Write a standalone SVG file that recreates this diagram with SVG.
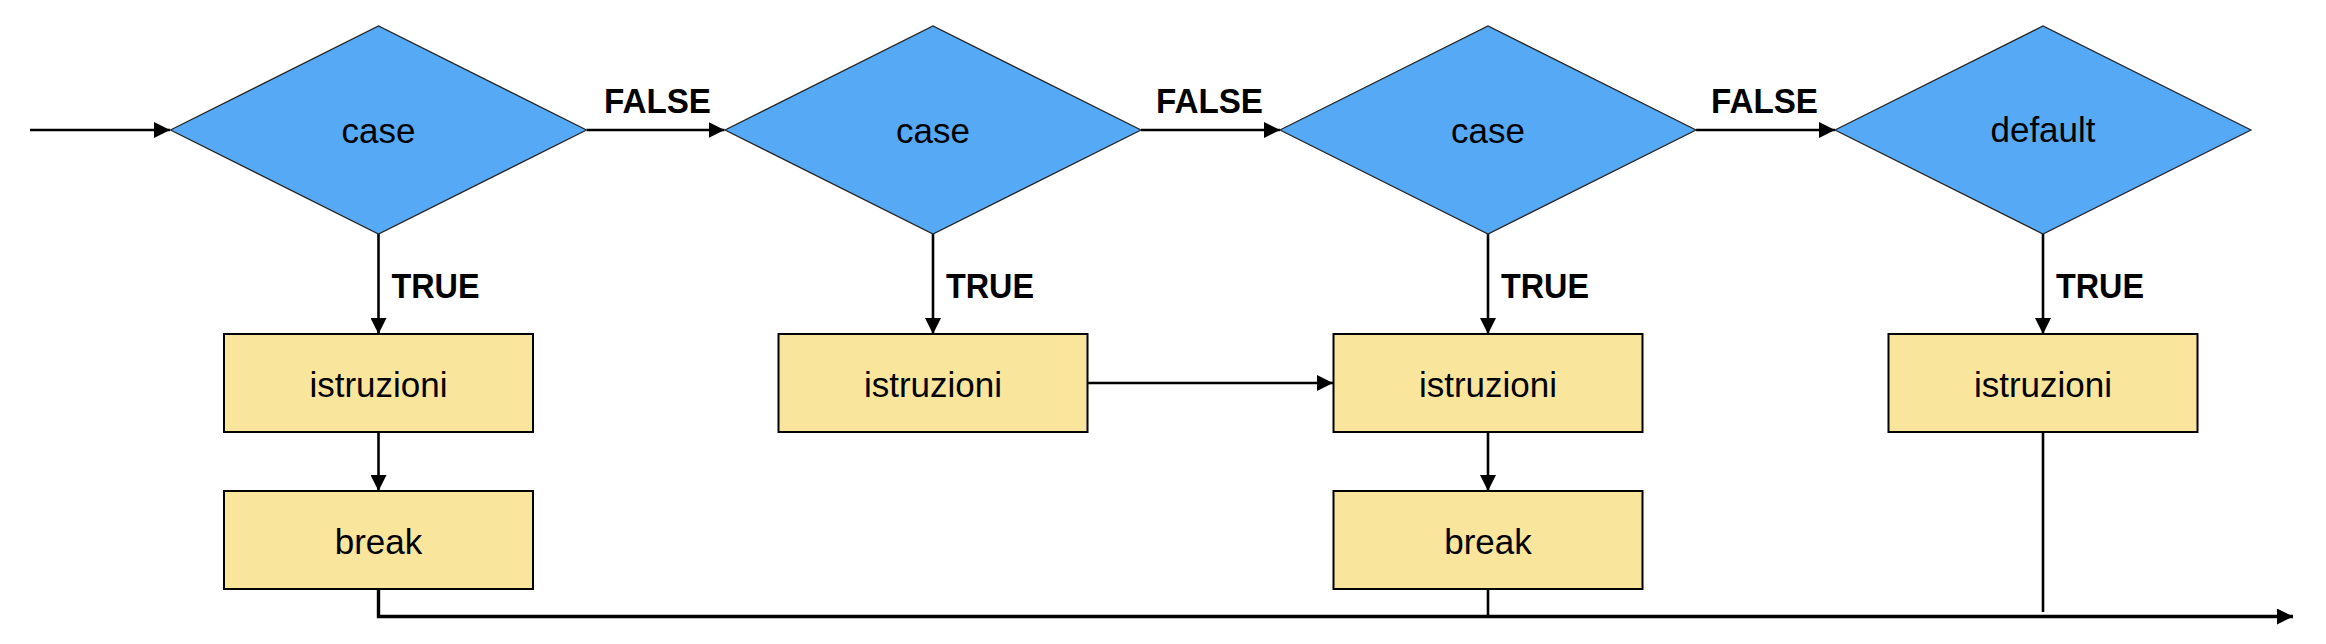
<svg xmlns="http://www.w3.org/2000/svg" width="2326" height="644" viewBox="0 0 2326 644">
<style>
.dia{fill:#56A9F5;stroke:#222;stroke-width:1.2}
.box{fill:#F9E69C;stroke:#000;stroke-width:2}
.lbl{font-family:"Liberation Sans",Arial,sans-serif;font-size:35px;fill:#000;text-anchor:middle}
.cond{font-family:"Liberation Sans",Arial,sans-serif;font-size:35px;font-weight:bold;fill:#000}
.ln{fill:none;stroke:#000;stroke-width:2.6}
.thick{fill:none;stroke:#000;stroke-width:3.4}
</style>
<defs>
<marker id="ah" markerUnits="userSpaceOnUse" markerWidth="16" markerHeight="16" viewBox="0 0 14 14" refX="14" refY="7" orient="auto">
<path d="M0,0 L14,7 L0,14 Z" fill="#000"/>
</marker>
</defs>
<rect width="2326" height="644" fill="#fff"/>
<g id="connectors">
<path class="ln" d="M30,130 H170" marker-end="url(#ah)"/>
<path class="ln" d="M586.5,130 H724.5" marker-end="url(#ah)"/>
<path class="ln" d="M1141,130 H1280" marker-end="url(#ah)"/>
<path class="ln" d="M1696,130 H1835" marker-end="url(#ah)"/>
<path class="ln" d="M378.5,234 V334" marker-end="url(#ah)"/>
<path class="ln" d="M933,234 V334" marker-end="url(#ah)"/>
<path class="ln" d="M1488,234 V334" marker-end="url(#ah)"/>
<path class="ln" d="M2043,234 V334" marker-end="url(#ah)"/>
<path class="ln" d="M378.5,432 V491" marker-end="url(#ah)"/>
<path class="ln" d="M1488,432 V491" marker-end="url(#ah)"/>
<path class="ln" d="M1087.5,383 H1333" marker-end="url(#ah)"/>
<path class="thick" d="M378.5,589 V616.5 H2293" marker-end="url(#ah)"/>
<path class="ln" d="M1488,589 V616"/>
<path class="ln" d="M2043,432 V612"/>
<text class="cond" x="604" y="112.5" textLength="107" lengthAdjust="spacingAndGlyphs">FALSE</text>
<text class="cond" x="1156" y="112.5" textLength="107" lengthAdjust="spacingAndGlyphs">FALSE</text>
<text class="cond" x="1711" y="112.5" textLength="107" lengthAdjust="spacingAndGlyphs">FALSE</text>
<text class="cond" x="391.5" y="298" textLength="88" lengthAdjust="spacingAndGlyphs">TRUE</text>
<text class="cond" x="946" y="298" textLength="88" lengthAdjust="spacingAndGlyphs">TRUE</text>
<text class="cond" x="1501" y="298" textLength="88" lengthAdjust="spacingAndGlyphs">TRUE</text>
<text class="cond" x="2056" y="298" textLength="88" lengthAdjust="spacingAndGlyphs">TRUE</text>
</g>
<g id="case1"><polygon class="dia" points="170.5,130 378.5,26 586.5,130 378.5,234"/><text class="lbl" x="378.5" y="142.5">case</text></g>
<g id="case2"><polygon class="dia" points="725,130 933,26 1141,130 933,234"/><text class="lbl" x="933" y="142.5">case</text></g>
<g id="case3"><polygon class="dia" points="1280,130 1488,26 1696,130 1488,234"/><text class="lbl" x="1488" y="142.5">case</text></g>
<g id="default"><polygon class="dia" points="1835,130 2043,26 2251,130 2043,234"/><text class="lbl" x="2043" y="142">default</text></g>
<g id="istr1"><rect class="box" x="224" y="334" width="309" height="98"/><text class="lbl" x="378.5" y="396.5">istruzioni</text></g>
<g id="istr2"><rect class="box" x="778.5" y="334" width="309" height="98"/><text class="lbl" x="933" y="396.5">istruzioni</text></g>
<g id="istr3"><rect class="box" x="1333.5" y="334" width="309" height="98"/><text class="lbl" x="1488" y="396.5">istruzioni</text></g>
<g id="istr4"><rect class="box" x="1888.5" y="334" width="309" height="98"/><text class="lbl" x="2043" y="396.5">istruzioni</text></g>
<g id="break1"><rect class="box" x="224" y="491" width="309" height="98"/><text class="lbl" x="378.5" y="554">break</text></g>
<g id="break3"><rect class="box" x="1333.5" y="491" width="309" height="98"/><text class="lbl" x="1488" y="554">break</text></g>
</svg>
